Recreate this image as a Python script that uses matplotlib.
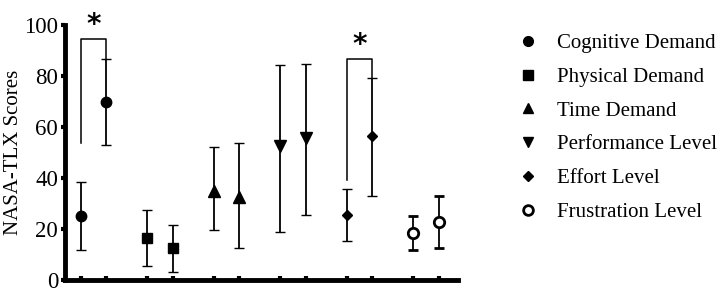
import matplotlib.pyplot as plt
from matplotlib.lines import Line2D

plt.rcParams['font.family'] = ['Liberation Serif', 'DejaVu Serif']

# 6 NASA-TLX dimensions, two conditions each
labels = ['Cognitive Demand', 'Physical Demand', 'Time Demand',
          'Performance Level', 'Effort Level', 'Frustration Level']
markers = ['o', 's', '^', 'v', 'D', 'o']
filled = [True, True, True, True, True, False]

means = [[24.8, 69.5], [16.2, 12.3], [34.6, 32.2],
         [52.2, 55.4], [25.5, 56.1], [18.3, 22.6]]
err_hi = [[38.1, 86.5], [27.4, 21.3], [51.9, 53.5],
          [84.3, 84.7], [35.7, 79.1], [25.0, 32.8]]
err_lo = [[11.5, 52.7], [5.3, 2.9], [19.3, 12.5],
          [18.7, 25.4], [15.0, 32.6], [11.5, 12.5]]

# significance brackets: group index, top, left leg end, right leg end
sig_groups = [0, 4]
sig_top = [94.2, 86.5]
sig_left_end = [53.5, 39.1]
sig_right_end = [86.5, 79.1]

group_gap = 2.6

fig = plt.figure(figsize=(7.22, 2.9), dpi=100)
ax = fig.add_axes([0.09, 0.036, 0.545, 0.8795])

xs_all = []
for i in range(len(labels)):
    xs = [i * group_gap, i * group_gap + 1]
    xs_all += xs
    for j in range(2):
        lo = means[i][j] - err_lo[i][j]
        hi = err_hi[i][j] - means[i][j]
        ms = 7.5
        if markers[i] == 'D':
            ms = 5.5
        elif markers[i] in ('^', 'v'):
            ms = 8
        ax.errorbar(xs[j], means[i][j], yerr=[[lo], [hi]], fmt=markers[i],
                    color='black', ecolor='black', elinewidth=1.3,
                    capsize=3.3, capthick=1.3, markersize=ms,
                    markerfacecolor='black' if filled[i] else 'white',
                    markeredgewidth=2.0 if not filled[i] else 1.0, zorder=3)

# brackets and stars
for k, g in enumerate(sig_groups):
    x0 = g * group_gap
    x1 = x0 + 1
    ax.plot([x0, x0, x1, x1], [sig_left_end[k], sig_top[k], sig_top[k], sig_right_end[k]],
            color='black', lw=1.1, clip_on=False)
    ax.text((x0 + x1) / 2, sig_top[k] + 5.5, '*', ha='center', va='center',
            fontsize=20, fontweight='bold', fontfamily='DejaVu Sans', clip_on=False)

ax.set_xlim(-0.62, 14.77)
ax.set_ylim(0, 100)
ax.set_xticks(xs_all)
ax.set_xticklabels([])
ax.set_yticks([0, 20, 40, 60, 80, 100])
ax.tick_params(axis='x', direction='in', length=3, width=3)
ax.tick_params(axis='y', direction='out', length=3, width=3, labelsize=16.5, pad=2)
for s in ['top', 'right']:
    ax.spines[s].set_visible(False)
for s in ['left', 'bottom']:
    ax.spines[s].set_linewidth(3.5)
ax.set_ylabel('NASA-TLX Scores', fontsize=15, labelpad=1)

handles = []
for i in range(len(labels)):
    ms = 7
    if markers[i] == 'D':
        ms = 5
    handles.append(Line2D([], [], ls='none', marker=markers[i], color='black',
                          markersize=ms,
                          markerfacecolor='black' if filled[i] else 'white',
                          markeredgewidth=2.0 if not filled[i] else 1.0))
fig.legend(handles, labels, loc='upper left', bbox_to_anchor=(0.703, 0.92),
           frameon=False, fontsize=15, handlelength=1.0, handletextpad=0.86,
           labelspacing=0.68, borderpad=0)

fig.savefig('out.png', dpi=100)
